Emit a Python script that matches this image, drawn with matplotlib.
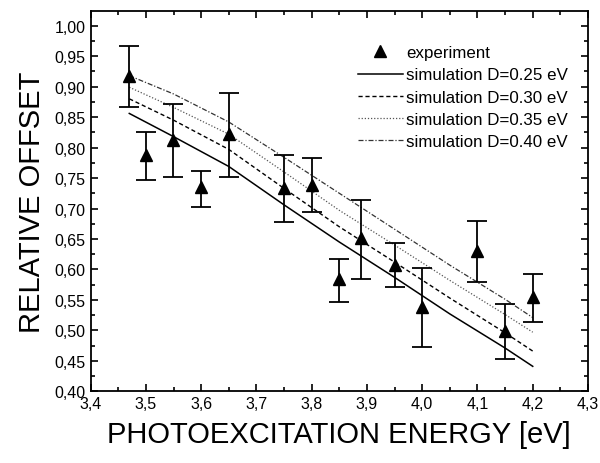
import matplotlib
matplotlib.use("Agg")
import matplotlib.pyplot as plt
from matplotlib.lines import Line2D
from matplotlib.ticker import MultipleLocator, FuncFormatter

plt.rcParams['font.family'] = ['Liberation Sans', 'DejaVu Sans']

# experiment points
energy = [3.47, 3.50, 3.55, 3.60, 3.65, 3.75, 3.80, 3.85, 3.89, 3.95, 4.00, 4.10, 4.15, 4.20]
offset = [0.917, 0.787, 0.813, 0.735, 0.822, 0.734, 0.739, 0.584, 0.651, 0.608, 0.539, 0.631, 0.499, 0.555]
err_lo = [0.866, 0.746, 0.752, 0.703, 0.751, 0.678, 0.694, 0.547, 0.584, 0.572, 0.472, 0.580, 0.453, 0.514]
err_hi = [0.966, 0.825, 0.871, 0.762, 0.890, 0.788, 0.783, 0.617, 0.714, 0.643, 0.602, 0.680, 0.543, 0.593]

# simulation curves
sim_x = [3.47, 3.55, 3.65, 3.75, 3.85, 3.95, 4.05, 4.15, 4.20]
sim_025 = [0.856, 0.818, 0.769, 0.706, 0.645, 0.587, 0.527, 0.471, 0.441]
sim_030 = [0.880, 0.845, 0.797, 0.733, 0.670, 0.612, 0.553, 0.496, 0.466]
sim_035 = [0.899, 0.866, 0.822, 0.760, 0.697, 0.640, 0.582, 0.526, 0.497]
sim_040 = [0.918, 0.888, 0.842, 0.784, 0.725, 0.666, 0.607, 0.551, 0.521]

fig = plt.figure(figsize=(6, 4.64), dpi=100)
ax = fig.add_axes([0.151, 0.1545, 0.829, 0.8195])

yerr = [[o - l for o, l in zip(offset, err_lo)], [h - o for o, h in zip(offset, err_hi)]]
ax.errorbar(energy, offset, yerr=yerr, fmt='^', color='black', ms=9,
            capsize=7, elinewidth=1.3, capthick=1.3, zorder=3)

l1, = ax.plot(sim_x, sim_025, '-', color='black', lw=1.1)
l2, = ax.plot(sim_x, sim_030, color='black', lw=1.0, ls=(0, (3, 2)))
l3, = ax.plot(sim_x, sim_035, color='#555555', lw=0.9, ls=(0, (1, 1.5)))
l4, = ax.plot(sim_x, sim_040, color='#333333', lw=0.9, ls=(0, (4, 1.5, 1, 1.5)))
exp_handle = Line2D([], [], marker='^', color='black', ls='none', ms=9)

ax.set_xlim(3.4, 4.3)
ax.set_ylim(0.40, 1.024)
ax.xaxis.set_major_locator(MultipleLocator(0.1))
ax.xaxis.set_minor_locator(MultipleLocator(0.05))
ax.yaxis.set_major_locator(MultipleLocator(0.05))
ax.yaxis.set_minor_locator(MultipleLocator(0.025))
ax.xaxis.set_major_formatter(FuncFormatter(lambda v, p: f"{v:.1f}".replace('.', ',')))
ax.yaxis.set_major_formatter(FuncFormatter(lambda v, p: f"{v:.2f}".replace('.', ',')))
ax.tick_params(which='both', direction='in', top=True, right=True, width=1.2)
ax.tick_params(which='major', length=5, labelsize=11.5)
ax.tick_params(which='minor', length=3)
for s in ax.spines.values():
    s.set_linewidth(1.3)

ax.set_xlabel('PHOTOEXCITATION ENERGY [eV]', fontsize=21, labelpad=6)
ax.set_ylabel('RELATIVE OFFSET', fontsize=21, labelpad=6)

ax.legend([exp_handle, l1, l2, l3, l4],
          ['experiment', 'simulation D=0.25 eV', 'simulation D=0.30 eV',
           'simulation D=0.35 eV', 'simulation D=0.40 eV'],
          loc='upper right', bbox_to_anchor=(0.99, 0.95), frameon=False,
          fontsize=12.2, handlelength=2.6, handletextpad=0.2, labelspacing=0.42)

fig.savefig('out.png', dpi=100)
